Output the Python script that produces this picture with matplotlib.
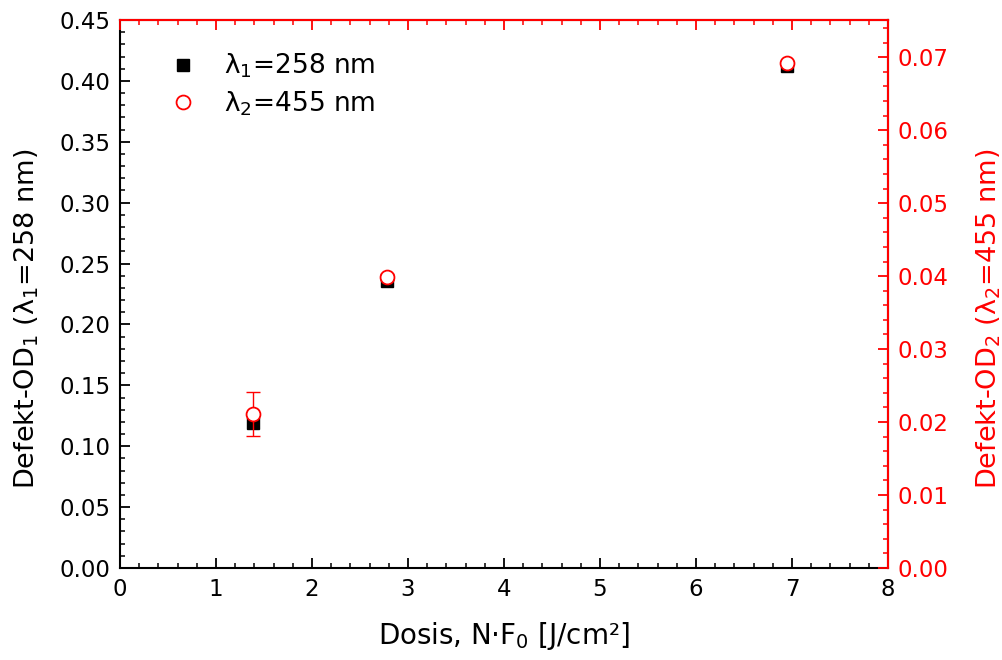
import matplotlib
matplotlib.use("Agg")
import matplotlib.pyplot as plt
from matplotlib.ticker import MultipleLocator
import numpy as np

plt.rcParams.update({
    "font.family": "DejaVu Sans",
    "mathtext.fontset": "dejavusans",
    "font.size": 15,
})

# data
dose = np.array([1.385, 2.78, 6.95])
od1 = np.array([0.119, 0.236, 0.412])        # lambda1 = 258 nm (left axis)
od2 = np.array([0.0211, 0.0399, 0.0692])     # lambda2 = 455 nm (right axis)
od2_err = np.array([0.0030, 0.0004, 0.0003])

fig = plt.figure(figsize=(10.03, 6.6), dpi=100)
ax = fig.add_axes([0.1196, 0.1394, 0.7657, 0.8303])
ax2 = ax.twinx()

h1, = ax.plot(dose, od1, "s", color="black", markersize=8.5, zorder=3,
              label="λ$_1$=258 nm")
ax2.errorbar(dose, od2, yerr=od2_err, fmt="none", ecolor="red",
             elinewidth=1.0, capsize=5, capthick=1.0, zorder=3)
h2, = ax2.plot(dose, od2, "o", markerfacecolor="white", markeredgecolor="red",
               markeredgewidth=1.3, markersize=10, zorder=4,
               label="λ$_2$=455 nm")

# axes ranges / ticks
ax.set_xlim(0, 8)
ax.set_ylim(0, 0.45)
ax2.set_ylim(0, 0.0751)
ax.xaxis.set_major_locator(MultipleLocator(1))
ax.xaxis.set_minor_locator(MultipleLocator(0.2))
ax.yaxis.set_major_locator(MultipleLocator(0.05))
ax.yaxis.set_minor_locator(MultipleLocator(0.01))
ax2.yaxis.set_major_locator(MultipleLocator(0.01))
ax2.yaxis.set_minor_locator(MultipleLocator(0.002))
ax.yaxis.set_major_formatter(plt.FormatStrFormatter("%.2f"))
ax2.yaxis.set_major_formatter(plt.FormatStrFormatter("%.2f"))

ax.tick_params(which="major", direction="in", length=7.5, width=1.3,
               labelsize=16.5, pad=7)
ax.tick_params(which="minor", direction="in", length=3.8, width=1.1)
ax.tick_params(axis="x", which="both", top=False)
ax.tick_params(axis="y", which="both", right=False)

ax2.tick_params(axis="y", which="major", direction="in", length=7.5, width=1.3,
                colors="red", labelsize=16.5, pad=7)
ax2.tick_params(axis="y", which="minor", direction="in", length=3.8, width=1.1,
                colors="red")
ax2.xaxis.set_visible(True)
ax2.tick_params(axis="x", which="both", bottom=False, top=True,
                labelbottom=False, labeltop=False, direction="in", color="red")
ax2.tick_params(axis="x", which="major", length=7.5, width=1.3)
ax2.tick_params(axis="x", which="minor", length=3.8, width=1.1)

for s in ax.spines.values():
    s.set_linewidth(1.5)
for name, s in ax2.spines.items():
    s.set_linewidth(1.5)
    if name in ("left", "bottom"):
        s.set_visible(False)
    else:
        s.set_color("red")

ax.set_xlabel("Dosis, N·F$_0$ [J/cm²]", fontsize=20, labelpad=14)
ax.set_ylabel("Defekt-OD$_1$ (λ$_1$=258 nm)", fontsize=19.5)
ax2.set_ylabel("Defekt-OD$_2$ (λ$_2$=455 nm)", fontsize=19.5, color="red")
ax.yaxis.set_label_coords(-0.103, 0.455)
ax2.yaxis.set_label_coords(1.113, 0.455)

ax.legend(handles=[h1, h2], loc="upper left", frameon=False, fontsize=19,
          bbox_to_anchor=(0.017, 0.985), handletextpad=0.55, labelspacing=0.35)

fig.savefig("out.png", dpi=100)
